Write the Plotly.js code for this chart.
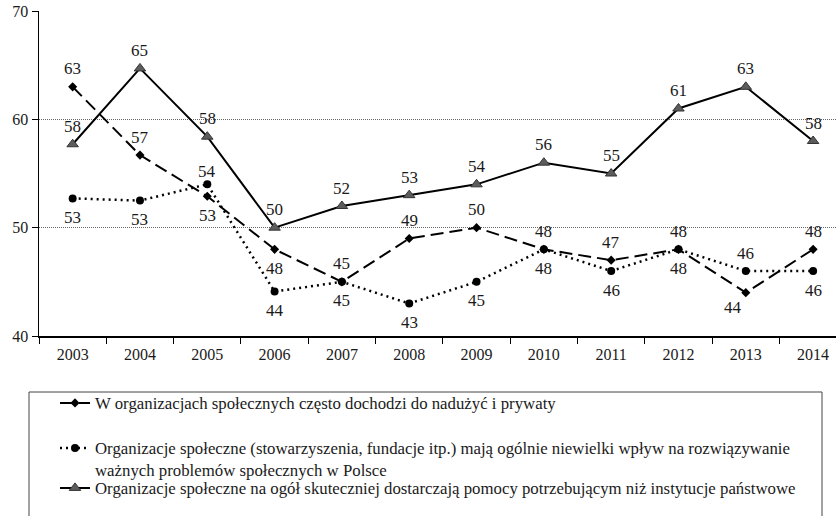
<!DOCTYPE html>
<html>
<head>
<meta charset="utf-8">
<script src="https://cdn.plot.ly/plotly-3.0.1.min.js"></script>
<style>
  html, body { margin: 0; padding: 0; background: #fff; }
  #chart { width: 836px; height: 516px; }
</style>
</head>
<body>
<div id="chart"></div>
<script>
// ---- data ----
const years = ['2003','2004','2005','2006','2007','2008','2009','2010','2011','2012','2013','2014'];
const abuseValues     = [63, 56.7, 52.9, 48, 45, 49, 50, 48, 47, 48, 44, 48];
const influenceValues = [52.7, 52.5, 54, 44.1, 45, 43, 45, 48, 46, 48, 46, 46];
const helpValues      = [57.7, 64.7, 58.4, 50, 52, 53, 54, 56, 55, 61, 63, 58];
const abuseLabels     = ['63','57','53','48','45','49','50','48','47','48','44','48'];
const influenceLabels = ['53','53','54','44','45','43','45','48','46','48','46','46'];
const helpLabels      = ['58','65','58','50','52','53','54','56','55','61','63','58'];
const seriesNames = [
  'W organizacjach społecznych często dochodzi do nadużyć i prywaty',
  'Organizacje społeczne (stowarzyszenia, fundacje itp.) mają ogólnie niewielki wpływ na rozwiązywanie<br>ważnych problemów społecznych w Polsce',
  'Organizacje społeczne na ogół skuteczniej dostarczają pomocy potrzebującym niż instytucje państwowe'
];
const yTicks = [40, 50, 60, 70];

// ---- label placement (style) ----
const abuseSide     = ['up','up','down','down','up','up','up','up','up','up','downleft','up'];
const influenceSide = ['down','down','upnear','down','down','down','down','down','down','down','up','down'];
const helpSide      = ['up','up','up','up','up','up','up','up','up','up','up','up'];

const FONT = 'Liberation Serif';
const TXT = '#1a1a1a';

const traces = [
  {
    x: years, y: abuseValues, name: seriesNames[0], type: 'scatter', mode: 'lines+markers',
    line: {color: '#000', width: 2, dash: '13px,6px'},
    marker: {symbol: 'diamond', size: 7, color: '#000'},
    legend: 'legend'
  },
  {
    x: years, y: influenceValues, name: seriesNames[1], type: 'scatter', mode: 'lines+markers',
    line: {color: '#000', width: 2.5, dash: '2px,4px'},
    marker: {symbol: 'circle', size: 8, color: '#000'},
    legend: 'legend2'
  },
  {
    x: years, y: helpValues, name: seriesNames[2], type: 'scatter', mode: 'lines+markers',
    line: {color: '#000', width: 2},
    marker: {symbol: 'triangle-up', size: 10, color: '#5c5c5c', line: {color: '#333', width: 1}},
    legend: 'legend3'
  }
];

function makeLabels(vals, labels, sides) {
  return vals.map((v, i) => {
    const s = sides[i];
    let ys = 18, xs = 0;
    if (s === 'down') ys = -19;
    if (s === 'upnear') ys = 13;
    if (s === 'downleft') { ys = -15; xs = -13; }
    return {
      x: i, y: v, xref: 'x', yref: 'y', text: labels[i], showarrow: false,
      yshift: ys, xshift: xs, font: {family: FONT, size: 17, color: TXT}
    };
  });
}
const annotations = [].concat(
  makeLabels(abuseValues, abuseLabels, abuseSide),
  makeLabels(influenceValues, influenceLabels, influenceSide),
  makeLabels(helpValues, helpLabels, helpSide)
);

// pixel helpers for paper coordinates (plot area: x 39..836, y 11..336)
const PL = 39, PR = 836, PT = 11, PB = 336;
const px = p => (p - PL) / (PR - PL);
const py = p => (PB - p) / (PB - PT);

const legendBase = {
  font: {family: FONT, size: 16.8, color: TXT},
  bgcolor: 'rgba(0,0,0,0)', borderwidth: 0,
  xanchor: 'left', yanchor: 'middle', valign: 'top', x: px(55)
};

const layout = {
  width: 836, height: 516,
  margin: {l: PL, r: 0, t: PT, b: 516 - PB, pad: 0},
  paper_bgcolor: '#fff', plot_bgcolor: '#fff',
  font: {family: FONT, size: 16, color: TXT},
  showlegend: true,
  xaxis: {
    type: 'category', range: [-0.5, 11.34],
    showline: true, linecolor: '#000', linewidth: 1.5,
    ticks: 'outside', tickson: 'boundaries', ticklen: 6, tickcolor: '#000', tickwidth: 1,
    ticklabelstandoff: 3,
    showgrid: false, zeroline: false,
    tickfont: {family: FONT, size: 16, color: TXT}
  },
  yaxis: {
    range: [40, 70], tickvals: yTicks, ticktext: yTicks.map(String),
    showline: true, linecolor: '#000', linewidth: 1.5,
    ticks: 'outside', ticklen: 6, tickcolor: '#000', tickwidth: 1,
    showgrid: true, gridcolor: '#666', griddash: '1px,1px', gridwidth: 1,
    zeroline: false,
    tickfont: {family: FONT, size: 16, color: TXT}
  },
  legend:  Object.assign({}, legendBase, {y: py(403)}),
  legend2: Object.assign({}, legendBase, {y: py(459)}),
  legend3: Object.assign({}, legendBase, {y: py(488)}),
  annotations: annotations,
  shapes: [{
    type: 'rect', xref: 'paper', yref: 'paper',
    x0: px(29), x1: px(822), y0: py(392), y1: py(560),
    line: {color: '#444', width: 1}, fillcolor: 'rgba(0,0,0,0)'
  }]
};

Plotly.newPlot('chart', traces, layout, {staticPlot: true, displayModeBar: false});
</script>
</body>
</html>
